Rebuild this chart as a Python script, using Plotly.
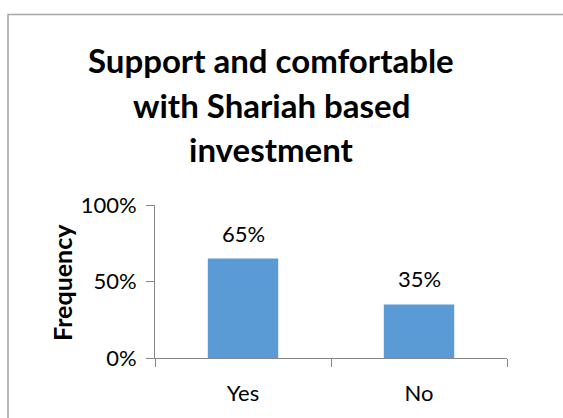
import plotly.graph_objects as go

categories = ["Yes", "No"]
shares = [0.65, 0.35]
y_ticks = [0, 0.5, 1.0]
y_tick_labels = ["0%", "50%", "100%"]
title_lines = ["Support and comfortable", "with Shariah based", "investment"]

W, H = 563, 418
L, R, T, B = 155, 56, 205, 60
pw, ph = W - L - R, H - T - B

FONT = "Lato"
AXIS_GREY = "#868686"
BAR_BLUE = "#5b9bd5"


def px_x(px):
    return (px - L) / pw


def px_y(py):
    return (H - B - py) / ph


fig = go.Figure(
    go.Bar(
        x=categories,
        y=shares,
        width=0.4,
        marker=dict(color=BAR_BLUE, line=dict(width=0)),
        hoverinfo="skip",
    )
)

# value labels sitting above each bar
for cat, val in zip(categories, shares):
    fig.add_annotation(
        x=cat, y=val, xref="x", yref="y",
        text=f"{val:.0%}", showarrow=False,
        yanchor="bottom", yshift=10,
        font=dict(family=FONT, size=22, color="#000000"),
    )

# chart title, one annotation per line
for line, cy in zip(title_lines, [60, 105, 149]):
    fig.add_annotation(
        x=px_x(271), y=px_y(cy), xref="paper", yref="paper",
        xanchor="center", yanchor="middle", showarrow=False,
        text=f"<b>{line}</b>",
        font=dict(family=FONT, size=33, color="#000000"),
    )

# vertical axis title
fig.add_annotation(
    x=px_x(62), y=px_y(283), xref="paper", yref="paper",
    xanchor="center", yanchor="middle", showarrow=False, textangle=-90,
    text="<b>Frequency</b>",
    font=dict(family=FONT, size=25, color="#000000"),
)

# outer chart frame (runs off the right and bottom edges)
fig.add_shape(
    type="rect", xref="paper", yref="paper",
    x0=px_x(8), x1=px_x(W + 20),
    y0=px_y(H + 20), y1=px_y(14.5),
    line=dict(color="#a6a6a6", width=1.5),
    fillcolor="rgba(0,0,0,0)", layer="below",
)

fig.update_layout(
    width=W, height=H,
    margin=dict(l=L, r=R, t=T, b=B),
    paper_bgcolor="white", plot_bgcolor="white",
    showlegend=False,
    xaxis=dict(
        range=[-0.5, 1.5],
        showline=True, linecolor=AXIS_GREY, linewidth=1,
        ticks="outside", tickson="boundaries", ticklen=8, tickcolor=AXIS_GREY,
        tickfont=dict(family=FONT, size=22, color="#000000"),
        ticklabelstandoff=16,
        showgrid=False, zeroline=False, fixedrange=True,
    ),
    yaxis=dict(
        range=[0, 1],
        tickvals=y_ticks, ticktext=y_tick_labels,
        showline=True, linecolor=AXIS_GREY, linewidth=1,
        ticks="outside", ticklen=8, tickcolor=AXIS_GREY,
        tickfont=dict(family=FONT, size=22, color="#000000"),
        ticklabelstandoff=5,
        showgrid=False, zeroline=False, fixedrange=True,
    ),
)

fig.write_html("out.html")
